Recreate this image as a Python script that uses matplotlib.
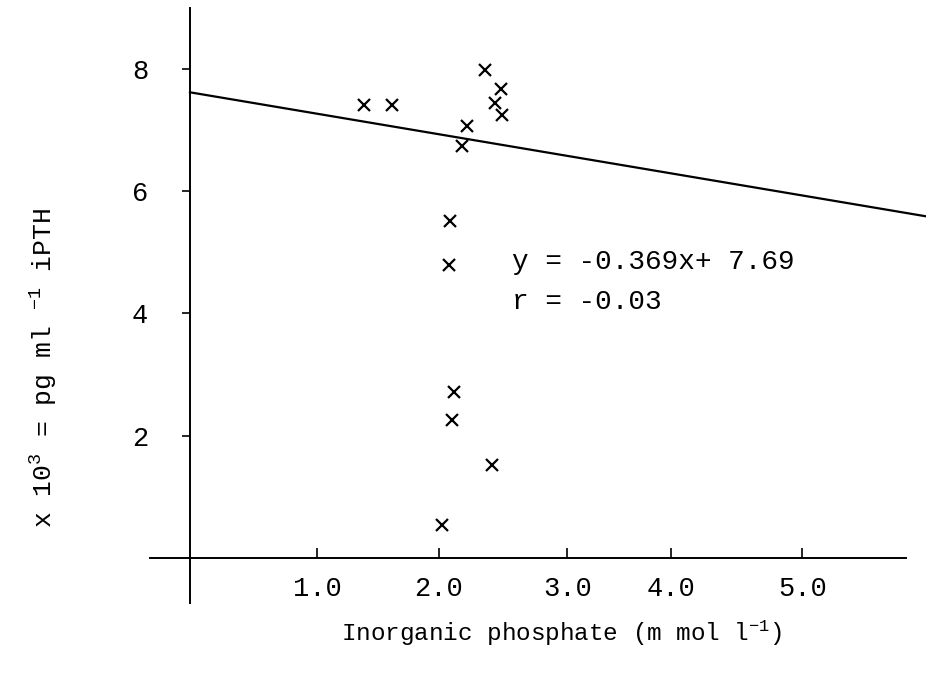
import matplotlib
matplotlib.use("Agg")
import matplotlib.pyplot as plt

plt.rcParams['font.family'] = ['Liberation Mono', 'DejaVu Sans Mono']
plt.rcParams['mathtext.fontset'] = 'custom'
plt.rcParams['mathtext.rm'] = 'Liberation Mono'
plt.rcParams['mathtext.it'] = 'Liberation Mono'
plt.rcParams['mathtext.default'] = 'rm'

# values
phosphate = [1.39, 1.62, 2.36, 2.49, 2.44, 2.50, 2.22, 2.18, 2.08, 2.07, 2.11, 2.10, 2.42, 2.02]
ipth = [7.41, 7.41, 7.98, 7.67, 7.44, 7.25, 7.07, 6.74, 5.51, 4.80, 2.72, 2.25, 1.52, 0.54]

# regression line as drawn (end points)
fit_x = [0.0, 5.89]
fit_y = [7.62, 5.59]

xtick_pos = [1.02, 1.99, 3.02, 3.85, 4.90]
xtick_labels = ['1.0', '2.0', '3.0', '4.0', '5.0']
ytick_pos = [2, 4, 6, 8]
ytick_labels = ['2', '4', '6', '8']

fig = plt.figure(figsize=(9.26, 6.79), dpi=100)
ax = fig.add_axes([150 / 926, 76 / 679, 756 / 926, 595 / 679])

ax.set_xlim(-0.32, 5.73)
ax.set_ylim(-0.74, 9.0)

for side in ['top', 'right']:
    ax.spines[side].set_visible(False)
ax.spines['left'].set_position(('data', 0))
ax.spines['bottom'].set_position(('data', 0))
ax.spines['left'].set_linewidth(1.4)
ax.spines['bottom'].set_linewidth(1.4)

ax.plot(fit_x, fit_y, color='black', lw=1.6, clip_on=False)
ax.plot(phosphate, ipth, linestyle='none', marker='x', color='black',
        markersize=8, markeredgewidth=1.6)

ax.set_xticks(xtick_pos)
ax.set_xticklabels(xtick_labels)
ax.set_yticks(ytick_pos)
ax.set_yticklabels(ytick_labels)
ax.tick_params(axis='x', direction='in', length=7, width=1.2, pad=13, labelsize=19.5)
ax.tick_params(axis='y', direction='out', length=6, width=1.2, pad=24, labelsize=19.5)

ax.text(2.58, 4.84, 'y = -0.369x+ 7.69', fontsize=20, va='center', ha='left')
ax.text(2.58, 4.18, 'r = -0.03', fontsize=20, va='center', ha='left')

fig.text(562 / 926, 1 - 633 / 679, 'Inorganic phosphate (m mol l$^{-1}$)',
         fontsize=17.5, ha='center', va='center')
fig.text(44 / 926, 1 - 368 / 679, 'x 10$^{3}$ = pg ml $^{-1}$ iPTH',
         fontsize=19, ha='center', va='center', rotation=90)

fig.savefig('out.png', dpi=100)
